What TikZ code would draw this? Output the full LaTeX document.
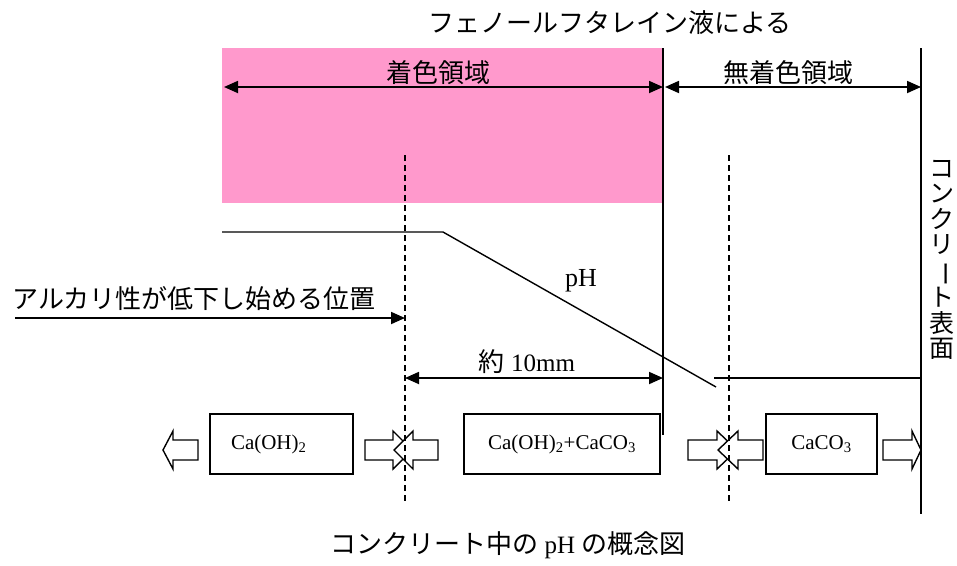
\documentclass[tikz,border=0pt]{standalone}
\usepackage{fontspec}
\usepackage{graphicx}
\setmainfont{Liberation Serif}
\newfontfamily\jp{Noto Sans CJK JP}
\usetikzlibrary{arrows.meta}

% hollow block arrow: tail x, head base x, tip x
\newcommand{\hollowarrow}[3]{%
  \draw[blockarrow] (#1,\ay-10) -- (#2,\ay-10) -- (#2,\ay-19) -- (#3,\ay)
    -- (#2,\ay+19) -- (#2,\ay+10) -- (#1,\ay+10) -- cycle;}

\begin{document}
\begin{tikzpicture}[x=1pt, y=-1pt, line width=1.4pt,
  >={Triangle[length=14pt, width=12pt]},
  jptext/.style={font=\jp\fontsize{26}{31}\selectfont, inner sep=0pt},
  rmtext/.style={font=\fontsize{26}{31}\selectfont, inner sep=0pt},
  phasebox/.style={draw, line width=1.4pt, minimum height=60pt, inner sep=0pt,
    font=\fontsize{21}{25}\selectfont},
  boundary/.style={line width=1.6pt},
  front/.style={line width=1.2pt, dash pattern=on 6pt off 4pt},
  blockarrow/.style={line width=1.4pt, line join=miter, fill=white},
  dimline/.style={<->, line width=1.8pt}]

  % Colors
  \definecolor{stainpink}{HTML}{FF99CC}

  \def\ay{450} % axis of the hollow arrows

  \useasboundingbox (0,0) rectangle (957,565);

  % Stained zone
  \coordinate (stain nw) at (222,48);
  \coordinate (stain se) at (663,203);
  \fill[stainpink] (stain nw) rectangle (stain se);

  % Colour front and concrete surface
  \coordinate (front top) at (663,48);
  \coordinate (front bottom) at (663,435);
  \coordinate (surf top) at (921,48);
  \coordinate (surf bottom) at (921,514);
  \draw[boundary] (front top) -- (front bottom);
  \draw[boundary] (surf top) -- (surf bottom);

  % Texts
  \node[jptext] (title) at (610,23) {フェノールフタレイン液による};
  \node[jptext] (stained) at (438,73) {着色領域};
  \node[jptext] (unstained) at (788,73) {無着色領域};
  \node[jptext, anchor=west] (alkali) at (12,299) {アルカリ性が低下し始める位置};
  \node[rmtext] (phlabel) at (581,281) {pH};
  \node[jptext] (depth) at (527,362) {約{\rmfamily\fontsize{25}{30}\selectfont\ 10mm}};
  \node[jptext, align=center, font=\jp\fontsize{25}{25.5}\selectfont] (surface) at (942,260)
    {コ\\ン\\ク\\リ\\\rotatebox[origin=c]{-90}{ー}\\ト\\表\\面};
  \node[jptext] (caption) at (508,545)
    {コンクリート中の {\rmfamily\fontsize{25}{30}\selectfont pH} の概念図};

  % Zone widths
  \coordinate (stain left) at (224,87);
  \coordinate (stain right) at (663,87);
  \coordinate (clear left) at (665,87);
  \coordinate (clear right) at (921,87);
  \draw[dimline] (stain left) -- (stain right);
  \draw[dimline] (clear left) -- (clear right);

  % pH profile
  \coordinate (ph start) at (222,232);
  \coordinate (ph knee) at (443,232);
  \coordinate (ph end) at (716,387);
  \coordinate (low start) at (714,378);
  \coordinate (low end) at (921,378);
  \draw (ph start) -- (ph knee) -- (ph end);
  \draw (low start) -- (low end);

  % Pointer to the alkali front and depth
  \coordinate (alk pointer) at (15,318);
  \coordinate (alk tip) at (405,318);
  \draw[->, line width=1.8pt] (alk pointer) -- (alk tip);
  \coordinate (depth left) at (405,378);
  \coordinate (depth right) at (663,378);
  \draw[dimline] (depth left) -- (depth right);

  % Phases
  \node[phasebox, minimum width=143pt, text width=101pt, align=left] (hydroxide)
    at (281.5,444) {Ca(OH)\textsubscript{2}};
  \node[phasebox, minimum width=196pt] (mixed) at (562,444)
    {Ca(OH)\textsubscript{2}+CaCO\textsubscript{3}};
  \node[phasebox, minimum width=111pt] (carbonate) at (821.5,444) {CaCO\textsubscript{3}};

  % Hollow arrows
  \hollowarrow{198}{173}{163}
  \hollowarrow{365}{393}{412}
  \hollowarrow{438}{413}{394}
  \hollowarrow{688}{717}{737}
  \hollowarrow{763}{738}{718}
  \hollowarrow{883}{912}{921}

  % Reaction fronts (dashed)
  \coordinate (alk top) at (405,155);
  \coordinate (alk bottom) at (405,502);
  \coordinate (carb top) at (729,155);
  \coordinate (carb bottom) at (729,502);
  \draw[front] (alk top) -- (alk bottom);
  \draw[front] (carb top) -- (carb bottom);

\end{tikzpicture}
\end{document}
